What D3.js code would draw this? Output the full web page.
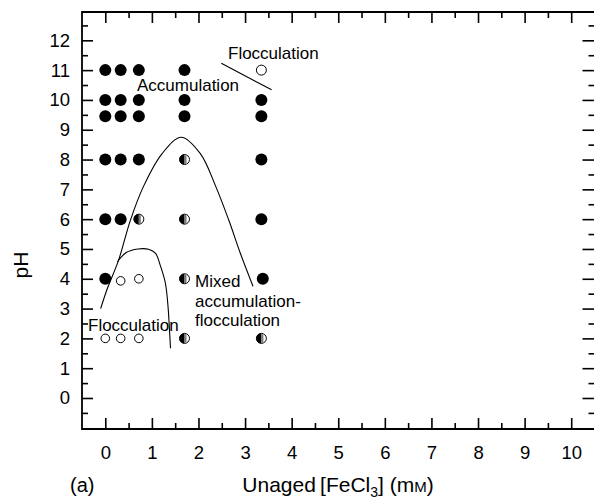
<!DOCTYPE html>
<html>
<head>
<meta charset="utf-8">
<script src="https://cdn.jsdelivr.net/npm/d3@7"></script>
<style>
  html, body { margin: 0; padding: 0; background: #fff; }
  svg { display: block; font-family: "Liberation Sans", Arial, Helvetica, sans-serif; }
</style>
</head>
<body>
<svg id="chart" width="594" height="499"></svg>
<script>
// Observations: unaged FeCl3 dose (mM), pH, and observed state
const doses = [0, 0.33, 0.72, 1.7, 3.35];
const filledPts = [
  [0, 11], [0.33, 11], [0.72, 11], [1.7, 11],
  [0, 10], [0.33, 10], [0.72, 10], [1.7, 10], [3.35, 10],
  [0, 9.45], [0.33, 9.45], [0.72, 9.45], [1.7, 9.45], [3.35, 9.45],
  [0, 8], [0.33, 8], [0.72, 8], [3.35, 8],
  [0, 6], [0.33, 6], [3.35, 6],
  [0, 4], [3.38, 4]
];
const halfPts = [
  [1.7, 8], [0.72, 6], [1.7, 6], [1.7, 4], [1.7, 2], [3.35, 2]
];
const openPts = [
  [0.33, 3.93], [0.72, 4], [0, 2], [0.33, 2], [0.72, 2]
];
const openLargePts = [[3.35, 11]];

// Region boundaries
const accumBoundary = [
  [-0.1, 3.0], [0.05, 3.7], [0.28, 4.6], [0.54, 5.97], [0.82, 7.1],
  [1.22, 8.2], [1.63, 8.75], [2.04, 8.2], [2.37, 7.1], [2.65, 5.97],
  [2.9, 4.85], [3.17, 3.75]
];
const floccBoundary = [
  [0.26, 4.57], [0.45, 4.88], [0.7, 5.0], [0.93, 4.99], [1.08, 4.85],
  [1.18, 4.45], [1.29, 3.85], [1.35, 3.0], [1.37, 2.5], [1.4, 1.67]
];
const highPhBoundary = [[2.49, 11.23], [3.57, 10.34]];

const xTicks = d3.range(0, 11, 1);
const xMinor = d3.range(0.5, 10.5, 1);
const yTicks = d3.range(0, 13, 1);
const yMinor = d3.range(-0.5, 13, 1);

const svg = d3.select("#chart");
const x = d3.scaleLinear().domain([-0.5, 10.5]).range([82, 594.5]);
const y = d3.scaleLinear().domain([-1.04, 12.95]).range([429, 12]);

const frameL = x(-0.5), frameR = x(10.5), frameT = y(12.95), frameB = y(-1.04);

function styleAxis(g) {
  g.select(".domain").remove();
  g.selectAll(".tick line").attr("stroke", "#000").attr("stroke-width", 1.6);
  g.selectAll(".tick text").attr("font-size", 18.5).attr("fill", "#000")
    .attr("font-family", "Liberation Sans, Arial, sans-serif");
}

// Bottom axis with labels
svg.append("g").attr("transform", `translate(0,${frameB})`)
  .call(d3.axisBottom(x).tickValues(xTicks).tickSize(-11).tickPadding(17).tickFormat(d3.format("d")))
  .call(styleAxis);
svg.append("g").attr("transform", `translate(0,${frameB})`)
  .call(d3.axisBottom(x).tickValues(xMinor).tickSize(-6).tickFormat(""))
  .call(styleAxis);
// Top axis
svg.append("g").attr("transform", `translate(0,${frameT})`)
  .call(d3.axisTop(x).tickValues(xTicks).tickSize(-11).tickFormat(""))
  .call(styleAxis);
svg.append("g").attr("transform", `translate(0,${frameT})`)
  .call(d3.axisTop(x).tickValues(xMinor).tickSize(-6).tickFormat(""))
  .call(styleAxis);
// Left axis with labels
svg.append("g").attr("transform", `translate(${frameL},0)`)
  .call(d3.axisLeft(y).tickValues(yTicks).tickSize(-11).tickPadding(12).tickFormat(d3.format("d")))
  .call(styleAxis);
svg.append("g").attr("transform", `translate(${frameL},0)`)
  .call(d3.axisLeft(y).tickValues(yMinor).tickSize(-6).tickFormat(""))
  .call(styleAxis);
// Right axis (its frame edge falls at the page border)
svg.append("g").attr("transform", `translate(${frameR},0)`)
  .call(d3.axisRight(y).tickValues(yTicks).tickSize(-12).tickFormat(""))
  .call(styleAxis);
svg.append("g").attr("transform", `translate(${frameR},0)`)
  .call(d3.axisRight(y).tickValues(yMinor).tickSize(-6).tickFormat(""))
  .call(styleAxis);

// Frame: left, bottom and top edges
svg.append("path")
  .attr("d", `M${frameR + 2},${frameT} H${frameL} V${frameB} H${frameR + 2}`)
  .attr("fill", "none").attr("stroke", "#000").attr("stroke-width", 1.8);

// Boundary curves
const line = d3.line().x(d => x(d[0])).y(d => y(d[1])).curve(d3.curveCatmullRom.alpha(0.5));
const plain = d3.line().x(d => x(d[0])).y(d => y(d[1]));
svg.append("path").attr("d", line(accumBoundary))
  .attr("fill", "none").attr("stroke", "#000").attr("stroke-width", 1.1);
svg.append("path").attr("d", line(floccBoundary))
  .attr("fill", "none").attr("stroke", "#000").attr("stroke-width", 1.1);
svg.append("path").attr("d", plain(highPhBoundary))
  .attr("fill", "none").attr("stroke", "#000").attr("stroke-width", 1.1);

// Markers
svg.append("g").selectAll("circle").data(filledPts).join("circle")
  .attr("cx", d => x(d[0])).attr("cy", d => y(d[1])).attr("r", 6)
  .attr("fill", "#000");

svg.append("g").selectAll("circle").data(openPts).join("circle")
  .attr("cx", d => x(d[0])).attr("cy", d => y(d[1])).attr("r", 4.3)
  .attr("fill", "#fff").attr("stroke", "#000").attr("stroke-width", 1);

svg.append("g").selectAll("circle").data(openLargePts).join("circle")
  .attr("cx", d => x(d[0])).attr("cy", d => y(d[1])).attr("r", 5)
  .attr("fill", "#fff").attr("stroke", "#000").attr("stroke-width", 1);

const halves = svg.append("g").selectAll("g").data(halfPts).join("g")
  .attr("transform", d => `translate(${x(d[0])},${y(d[1])})`);
const hr = 5;
halves.append("circle").attr("r", hr).attr("fill", "#fff").attr("stroke", "#000").attr("stroke-width", 1);
halves.append("path")
  .attr("d", `M0,${-hr} A${hr},${hr} 0 0 0 0,${hr} Z`)
  .attr("fill", "#000");
halves.append("path")
  .attr("d", `M0,${-hr + 0.6} A${hr - 0.6},${hr - 0.6} 0 0 1 ${(hr - 0.6) * 0.45},${-(hr - 0.6) * 0.89} L${(hr - 0.6) * 0.45},${(hr - 0.6) * 0.89} A${hr - 0.6},${hr - 0.6} 0 0 1 0,${hr - 0.6} Z`)
  .attr("fill", "#777");

// Region labels
const labelSize = 17;
function label(txt, xv, yv) {
  svg.append("text").attr("x", xv).attr("y", yv)
    .attr("font-size", labelSize).attr("fill", "#000").text(txt);
}
label("Flocculation", 228, 59);
label("Accumulation", 137, 91);
label("Mixed", 195, 287);
label("accumulation-", 195, 307);
label("flocculation", 195, 326);
label("Flocculation", 88, 331);

// Axis titles
svg.append("text")
  .attr("transform", "translate(28,265) rotate(-90)")
  .attr("text-anchor", "middle").attr("font-size", 21).attr("fill", "#000")
  .text("pH");

const xt = svg.append("text").attr("x", 338).attr("y", 492)
  .attr("text-anchor", "middle").attr("font-size", 21).attr("fill", "#000");
xt.append("tspan").text("Unaged\u2009[FeCl");
xt.append("tspan").attr("font-size", 14).attr("dy", 5).text("3");
xt.append("tspan").attr("dy", -5).text("] (m");
xt.append("tspan").attr("font-size", 15).text("M");
xt.append("tspan").text(")");

svg.append("text").attr("x", 70).attr("y", 492)
  .attr("font-size", 20).attr("fill", "#000").text("(a)");
</script>
</body>
</html>
